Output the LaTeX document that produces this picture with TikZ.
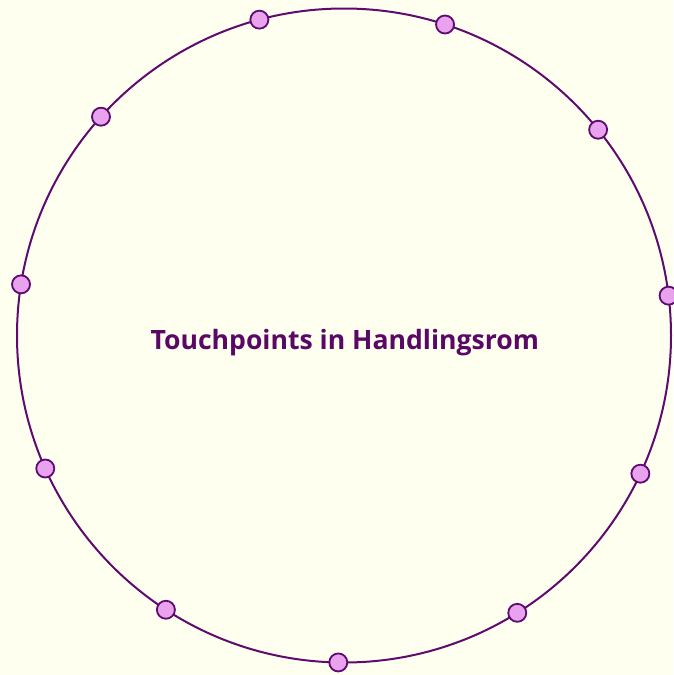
\documentclass[tikz,border=0pt]{standalone}
\usepackage{fontspec}
\setmainfont{Open Sans}
\usepackage{tikz}

\definecolor{paper}{HTML}{FFFFF0}
\definecolor{ringline}{HTML}{5E0A6E}
\definecolor{touchfill}{HTML}{E8A2EE}
\definecolor{titletext}{HTML}{5A0866}

\begin{document}
\begin{tikzpicture}
    [
    x = 1pt, y = -1pt,
    every node/.style = {font=\fontsize{26.6}{30}\selectfont\bfseries},
    ring/.style       = {circle, draw=ringline, line width=2pt, minimum size=654pt, inner sep=0pt, outer sep=0pt},
    touch/.style      = {circle, draw=ringline, fill=touchfill, line width=1.8pt, minimum size=18pt, inner sep=0pt},
    title/.style      = {text=titletext, anchor=base}
    ]
    \fill [paper] (0,0) rectangle (673,675);
    \useasboundingbox (0,0) rectangle (673,675);
    \node [ring] (ring) at (344,335.5) {};
    % eleven touchpoints round the ring
    \foreach \k in {0,...,10}
        \node [touch] (tp\k) at (ring.{105.2-\k*360/11}) {};
    \node [title] (label) at (344.8,349.3) {Touchpoints in Handlingsrom};
\end{tikzpicture}
\end{document}
